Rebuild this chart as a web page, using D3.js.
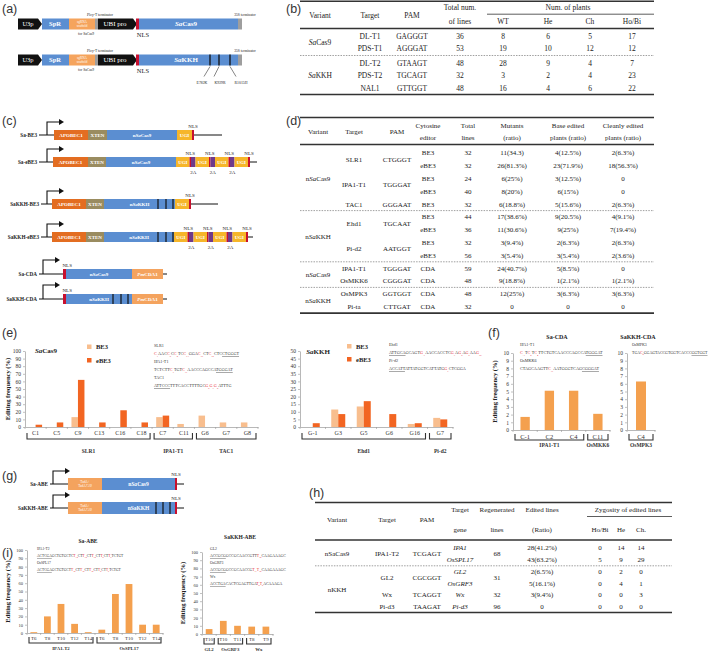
<!DOCTYPE html>
<html><head><meta charset="utf-8">
<script src="https://cdn.jsdelivr.net/npm/d3@7/dist/d3.min.js"></script>
<style>
html,body{margin:0;padding:0;background:#fff;}
svg{display:block;}
</style></head><body>
<svg id="fig" width="709" height="652"></svg>
<script>
// ======================= DATA =======================
// (b) SaCas9 / SaKKH knock-out table
const bVariants = ["*Sa*Cas9", "*Sa*KKH"];
const bVariantRows = [[0, 1], [2, 4]];
const bTargets = ["DL-T1", "PDS-T1", "DL-T2", "PDS-T2", "NAL1"];
const bPAM = ["GAGGGT", "AGGGAT", "GTAAGT", "TGCAGT", "GTTGGT"];
const bTotal = [36, 53, 48, 32, 48];
const bWT = [8, 19, 28, 3, 16];
const bHe = [6, 10, 9, 2, 4];
const bCh = [5, 12, 4, 4, 6];
const bHoBi = [17, 12, 7, 23, 22];

// (d) cytosine base editor table
const dVariantSpans = [["n*Sa*Cas9", 0, 4], ["n*Sa*KKH", 5, 8], ["n*Sa*Cas9", 9, 10], ["n*Sa*KKH", 11, 12]];
const dTargetSpans = [["SLR1", 0, 1], ["IPA1-T1", 2, 3], ["TAC1", 4, 4], ["Ehd1", 5, 6], ["Pi-d2", 7, 8],
                      ["IPA1-T1", 9, 9], ["OsMKK6", 10, 10], ["OsMPK3", 11, 11], ["Pi-ta", 12, 12]];
const dPAMSpans = [["CTGGGT", 0, 1], ["TGGGAT", 2, 3], ["GGGAAT", 4, 4], ["TGCAAT", 5, 6], ["AATGGT", 7, 8],
                   ["TGGGAT", 9, 9], ["CGGGAT", 10, 10], ["GGTGGT", 11, 11], ["CTTGAT", 12, 12]];
const dEditor = ["BE3", "eBE3", "BE3", "eBE3", "BE3", "BE3", "eBE3", "BE3", "eBE3", "CDA", "CDA", "CDA", "CDA"];
const dTotal = [32, 32, 24, 40, 32, 44, 36, 32, 56, 59, 48, 48, 32];
const dMutants = ["11(34.3)", "26(81.3%)", "6(25%)", "8(20%)", "6(18.8%)", "17(38.6%)", "11(30.6%)", "3(9.4%)", "3(5.4%)", "24(40.7%)", "9(18.8%)", "12(25%)", "0"];
const dBase = ["4(12.5%)", "23(71.9%)", "3(12.5%)", "6(15%)", "5(15.6%)", "9(20.5%)", "9(25%)", "2(6.3%)", "3(5.4%)", "5(8.5%)", "1(2.1%)", "3(6.3%)", "0"];
const dClean = ["2(6.3%)", "18(56.3%)", "0", "0", "2(6.3%)", "4(9.1%)", "7(19.4%)", "2(6.3%)", "2(3.6%)", "0", "1(2.1%)", "3(6.3%)", "0"];
const dDashedAfter = [4, 8, 10];

// (e) editing frequencies
const eCasCats = ["C1", "C5", "C9", "C13", "C16", "C18", "C7", "C11", "G6", "G7", "G8"];
const eCasBE3 = [0, 0, 13, 0, 0, 0, 13, 4, 15, 6, 6];
const eCasEBE3 = [3, 6, 62, 6, 22, 6, 15, 0, 0, 0, 0];
const eCasGroups = [["SLR1", 0, 5], ["IPA1-T1", 6, 7], ["TAC1", 8, 10]];
const eKkhCats = ["G-1", "G3", "G5", "G6", "G16", "G7"];
const eKkhBE3 = [0, 11.5, 13.5, 0, 2, 6];
const eKkhEBE3 = [2.5, 8.5, 17, 8.5, 2.5, 5];
const eKkhGroups = [["Ehd1", 0, 4], ["Pi-d2", 5, 5]];
const eCasSeqs = [["SLR1", "{C1}AAC{C5}C{C9}TC{C13}GGA{C16}CT{C18}CTC[CTGGGT]"],
                  ["IPA1-T1", "TCTCTT{C7}TGT{C11}AACCCAGCCA[TGGGAT]"],
                  ["TAC1", "[ATTCCC]TTTCACCTTTTGC{G6}{G7}{G8}ATTTG"]];
const eKkhSeqs = [["Ehd1", "[ATTGCA]GCAGT{G-1}AACCACCTC{G3}A{G5}A{G6}AA{G16}"],
                  ["Pi-d2", "[ACCATT]ATTATGGTCATTATG{G7}CTCGGA"]];

// (f) Sa-CDA / SaKKH-CDA
const fSaCats = ["C-1", "C2", "C4", "C11"];
const fSaVals = [1.7, 5.1, 5.1, 2.1];
const fSaGroups = [["IPA1-T1", 0, 2], ["OsMKK6", 3, 3]];
const fKkhCats = ["C4"];
const fKkhVals = [6.3];
const fKkhGroups = [["OsMPK3", 0, 0]];
const fSaSeqs = [["IPA1-T1", "{C-1}T{C2}T{C4}TTCTGTCAACCCAGCCA[TGGGAT]"],
                 ["OsMKK6", "CTAGCAAGTT{C11}AATGGGTCAG[CGGGAT]"]];
const fKkhSeqs = [["OsMPK3", "TGA{C4}GGAGTACCGTGGTCACCC[GGTGGT]"]];

// (h) adenine base editor table
const hVariantSpans = [["nSaCas9", 0, 1], ["nKKH", 2, 5]];
const hTargetSpans = [["IPA1-T2", 0, 1], ["GL2", 2, 3], ["Wx", 4, 4], ["Pi-d3", 5, 5]];
const hPAMSpans = [["TCGAGT", 0, 1], ["CGCGGT", 2, 3], ["TCAGGT", 4, 4], ["TAAGAT", 5, 5]];
const hGenes = ["IPA1", "OsSPL17", "GL2", "OsGRF3", "Wx", "Pi-d3"];
const hRegenSpans = [["68", 0, 1], ["31", 2, 3], ["32", 4, 4], ["96", 5, 5]];
const hEdited = ["28(41.2%)", "43(63.2%)", "2(6.5%)", "5(16.1%)", "3(9.4%)", "0"];
const hHoBi = [0, 5, 0, 0, 0, 0];
const hHe = [14, 9, 2, 4, 0, 0];
const hCh = [14, 29, 0, 1, 3, 0];

// (i) Sa-ABE / SaKKH-ABE
const iSaCats = ["T6", "T8", "T10", "T12", "T14", "T6", "T8", "T10", "T12", "T14"];
const iSaVals = [1, 20, 35, 11, 1, 4, 47, 59, 10, 10];
const iSaGroups = [["IPA1-T2", 0, 4], ["OsSPL17", 5, 9]];
const iKkhCats = ["T10", "T10", "T11", "T8", "T9"];
const iKkhVals = [6, 16, 10, 9, 9];
const iKkhGroups = [["GL2", 0, 0], ["OsGRF3", 1, 2], ["Wx", 3, 4]];
const iSaSeqs = [["IPA1-T2", "[ACTCGA]GCTGTGCTC{T14}CT{T12}CT{T10}CT{T8}CT{T6}TCTGT"],
                 ["OsSPL17", "[ACTCGA]GCTGTGCT{T14}CT{T12}CT{T10}CT{T8}CT{T6}TCTGT"]];
const iKkhSeqs = [["GL2", "[ACCGCG]GCCGCAACCGTT{T10}CAAGAAAGC"],
                  ["OsGRF3", "[ACCGCG]GCCGCAACCG{T11}{T10}CAAGAAAGC"],
                  ["Wx", "[ACCTGA]CACTCGAGTTGA{T9}{T8}ACAAAGA"]];

// ======================= DRAWING =======================
const SERIF = "'Liberation Serif','Times New Roman',serif";
const SANS = "'Liberation Sans',Arial,sans-serif";
const svg = d3.select("#fig");
const C = {
  blue: "#5b8ed1", orange: "#e36d21", xten: "#9a8c60", ugi: "#f6b62a", red: "#c8102e",
  purple: "#6f3a8a", pm: "#f4a35e", scaf: "#f5a45d", gray: "#9e9e9e",
  be3: "#f8be8e", ebe3: "#f26522", bar: "#f4a04e", txt: "#222"
};

function rich(g, x, y, s, o = {}) {
  const size = o.size || 7;
  const t = g.append("text").attr("x", x).attr("y", y + size * 0.35)
    .attr("font-size", size).attr("font-family", o.family || SERIF)
    .attr("text-anchor", o.anchor || "middle").attr("fill", o.fill || C.txt);
  if (o.bold) t.attr("font-weight", "bold");
  if (o.italic) t.attr("font-style", "italic");
  String(s).split("*").forEach((part, i) => {
    if (!part) return;
    const sp = t.append("tspan").text(part);
    if (i % 2 === 1) sp.attr("font-style", "italic");
  });
  return t;
}
function hline(g, x0, x1, y, w, dash, col) {
  const l = g.append("line").attr("x1", x0).attr("x2", x1).attr("y1", y).attr("y2", y)
    .attr("stroke", col || "#333").attr("stroke-width", w);
  if (dash) l.attr("stroke-dasharray", dash);
  return l;
}
function panelLabel(x, y, s) {
  svg.append("text").attr("x", x).attr("y", y).text(s).attr("font-family", SANS)
    .attr("font-size", 12.5).attr("fill", "#333");
}
function seq(g, x, y, s, size) {
  const t = g.append("text").attr("x", x).attr("y", y + size * 0.35).attr("font-size", size)
    .attr("font-family", SERIF).attr("fill", "#333");
  const re = /\{([A-Z])(-?\d+)\}|\[([A-Z]+)\]|([A-Z]+)/g;
  let m, pend = 0;
  const add = (txt) => { const sp = t.append("tspan").text(txt); if (pend) { sp.attr("dy", pend); pend = 0; } return sp; };
  while ((m = re.exec(s))) {
    if (m[1]) {
      add(m[1]).attr("fill", "#e8262d");
      const sub = add(m[2]).attr("fill", "#e8262d").attr("font-size", size * 0.62);
      sub.attr("dy", (+sub.attr("dy") || 0) + size * 0.25);
      pend = -size * 0.25;
    } else if (m[3]) {
      add(m[3]).attr("text-decoration", "underline");
    } else add(m[4]);
  }
}
function seqBlock(g, x, y0, gap, items, size) {
  items.forEach(([name, s], i) => {
    g.append("text").attr("x", x).attr("y", y0 + i * gap * 2 + size * 0.35).text(name)
      .attr("font-size", size).attr("font-family", SERIF).attr("fill", "#333");
    seq(g, x, y0 + i * gap * 2 + gap, s, size);
  });
}

// ---------- bar chart ----------
function barChart(cfg) {
  const g = svg.append("g");
  const n = cfg.cats.length;
  const x = d3.scaleBand().domain(d3.range(n)).range([cfg.x0, cfg.x1]).padding(0);
  const y = d3.scaleLinear().domain([0, cfg.max]).range([cfg.yb, cfg.yt]);
  const ya = g.append("g").attr("transform", `translate(${cfg.x0},0)`)
    .call(d3.axisLeft(y).tickValues(d3.range(0, cfg.max + 1e-9, cfg.step)).tickSize(2).tickSizeOuter(0).tickPadding(2));
  ya.select(".domain").attr("stroke", "#999").attr("stroke-width", 0.7);
  ya.selectAll(".tick line").attr("stroke", "#999").attr("stroke-width", 0.6);
  ya.selectAll(".tick text").attr("font-size", cfg.tickSize || 5.5).attr("font-family", SERIF).attr("fill", "#333");
  const xa = g.append("g").attr("transform", `translate(0,${cfg.yb})`)
    .call(d3.axisBottom(x).tickSize(0).tickSizeOuter(0).tickPadding(cfg.catPad || 3).tickFormat(i => cfg.cats[i]));
  xa.select(".domain").attr("stroke", "#999").attr("stroke-width", 0.7);
  xa.selectAll(".tick text").attr("font-size", cfg.catSize || 6).attr("font-family", SERIF).attr("fill", "#333");
  g.selectAll(null).data(d3.range(n + 1)).join("line")
    .attr("x1", i => cfg.x0 + i * x.step()).attr("x2", i => cfg.x0 + i * x.step())
    .attr("y1", cfg.yb).attr("y2", cfg.yb + 2).attr("stroke", "#999").attr("stroke-width", 0.6);
  const inner = d3.scaleBand().domain(d3.range(cfg.series.length)).range([0, x.bandwidth()])
    .paddingInner(0).paddingOuter(cfg.pad);
  cfg.series.forEach((s, si) => {
    g.selectAll(null).data(s.values).join("rect")
      .attr("x", (d, i) => x(i) + inner(si)).attr("width", inner.bandwidth())
      .attr("y", d => y(d)).attr("height", d => y(0) - y(d)).attr("fill", s.color);
  });
  cfg.groups.forEach(([name, a, b]) => {
    const bx0 = x(a) + 2, bx1 = x(b) + x.bandwidth() - 2, by = cfg.yb + cfg.brY;
    g.append("path").attr("d", `M${bx0},${by - 6}V${by}H${bx1}V${by - 6}`)
      .attr("fill", "none").attr("stroke", "#333").attr("stroke-width", 1.1);
    g.append("text").attr("x", (bx0 + bx1) / 2).attr("y", by + cfg.lblY).text(name)
      .attr("text-anchor", "middle").attr("font-size", cfg.grpSize || 5.5).attr("font-family", SERIF)
      .attr("font-weight", "bold").attr("fill", "#333");
  });
  if (cfg.ylabel) {
    g.append("text").attr("transform", `translate(${cfg.ylx},${(cfg.yb + cfg.yt) / 2}) rotate(-90)`)
      .attr("text-anchor", "middle").attr("font-size", cfg.ylSize || 6.5).attr("font-weight", "bold")
      .attr("font-family", SERIF).attr("fill", "#222").text(cfg.ylabel);
  }
  return g;
}

// ---------- construct schematic ----------
function construct(o) {
  const g = svg.append("g");
  const h = o.h;
  rich(g, o.labelX, o.y, o.label, { size: o.labelSize || 5.2, anchor: "end", bold: true });
  hline(g, o.labelX + 2, o.start, o.y, 1, null, "#111");
  g.append("path").attr("d", `M${o.arrowX},${o.y}V${o.y - o.arrowH}H${o.arrowX + 13}`)
    .attr("fill", "none").attr("stroke", "#111").attr("stroke-width", 1.1);
  g.append("path").attr("d", `M${o.arrowX + 12},${o.y - o.arrowH - 3}L${o.arrowX + 17},${o.y - o.arrowH}L${o.arrowX + 12},${o.y - o.arrowH + 3}Z`).attr("fill", "#111");
  let cx = o.start; const nls = [], twoA = [];
  o.segs.forEach(([name, w, col, ts]) => {
    g.append("rect").attr("x", cx).attr("y", o.y - h / 2).attr("width", w).attr("height", h).attr("fill", col);
    if (name === "NLS") nls.push(cx + w / 2);
    else if (name === "2A") twoA.push(cx + w / 2);
    else if (name) {
      if (name.includes("|")) {
        name.split("|").forEach((p, k) => rich(g, cx + w / 2, o.y - 2 + k * 4, p, { size: ts || 3.2, fill: "#fff" }));
      } else rich(g, cx + w / 2, o.y, name, { size: ts || 5.5, fill: "#fff", bold: true });
    }
    cx += w;
  });
  hline(g, cx, o.end, o.y, 1, null, "#111");
  (o.marks || []).forEach(mx => g.append("line").attr("x1", mx).attr("x2", mx).attr("y1", o.y - h / 2).attr("y2", o.y + h / 2).attr("stroke", "#111").attr("stroke-width", 1.2));
  nls.forEach(nx => rich(g, nx + (o.nlsDx || 0), o.y - h / 2 - 4, "NLS", { size: 5, anchor: o.nlsAnchor || "middle" }));
  twoA.forEach(ax => rich(g, ax, o.y + h / 2 + 5, "2A", { size: 5 }));
  return g;
}

// ================= (a) =================
panelLabel(2, 13, "(a)");
function vectorRow(y, isKKH) {
  const g = svg.append("g"), h = 11;
  const arrow = (x0, x1) => g.append("path").attr("d", `M${x0},${y - h / 2}H${x1 - 4}L${x1},${y}L${x1 - 4},${y + h / 2}H${x0}Z`).attr("fill", "#111");
  arrow(18, 42); rich(g, 28, y, "U3p", { size: 6.5, fill: "#fff" });
  g.append("rect").attr("x", 42).attr("y", y - h / 2).attr("width", 27).attr("height", h).attr("fill", C.blue);
  rich(g, 55, y, "SpR", { size: 6.5, fill: "#fff", bold: true });
  g.append("rect").attr("x", 69).attr("y", y - h / 2).attr("width", 26).attr("height", h).attr("fill", C.scaf);
  rich(g, 82, y - 2, "sgRNA", { size: 3.3, fill: "#fff" }); rich(g, 82, y + 2, "scaffold", { size: 3.3, fill: "#fff" });
  g.append("rect").attr("x", 95).attr("y", y - h / 2).attr("width", 3).attr("height", h).attr("fill", C.gray);
  arrow(98, 137); rich(g, 115, y, "UBI pro", { size: 7, fill: "#fff" });
  g.append("rect").attr("x", 136).attr("y", y - h / 2).attr("width", 3).attr("height", h).attr("fill", C.red);
  g.append("rect").attr("x", 139).attr("y", y - h / 2).attr("width", 99).attr("height", h).attr("fill", C.blue);
  rich(g, 186, y, isKKH ? "*Sa*KKH" : "*Sa*Cas9", { size: 7, fill: "#fff", bold: true });
  g.append("rect").attr("x", 238).attr("y", y - h / 2).attr("width", 4).attr("height", h).attr("fill", C.gray);
  rich(g, 100, y - 9, "Ploy-T terminator", { size: 3.6 });
  rich(g, 245, y - 9, "35S terminator", { size: 3.6 });
  rich(g, 86, y + 10, "for SaCas9", { size: 3.6 });
  rich(g, 143, y + 11, "NLS", { size: 6.5 });
  if (isKKH) {
    [[210, 204, "E782K", 202], [219, 214, "K929R", 220], [230, 236, "R1015H", 241]].forEach(([mx, ex, lab, lx]) => {
      g.append("line").attr("x1", mx).attr("x2", mx).attr("y1", y - h / 2).attr("y2", y + h / 2).attr("stroke", "#111").attr("stroke-width", 1.3);
      g.append("line").attr("x1", mx).attr("x2", ex).attr("y1", y + h / 2 + 1).attr("y2", y + h / 2 + 11).attr("stroke", "#333").attr("stroke-width", 0.6);
      rich(g, lx, y + 23, lab, { size: 3.8 });
    });
  }
}
vectorRow(24, false);
vectorRow(60, true);

// ================= (b) =================
panelLabel(286, 13, "(b)");
{
  const g = svg.append("g"), fs = 7.5;
  const X = { v: 320, t: 370, p: 412, tot: 460, wt: 503, he: 548, ch: 590, hb: 632 };
  hline(g, 300, 654, 1.2, 1.6);
  rich(g, X.v, 15, "Variant", { size: fs }); rich(g, X.t, 15, "Target", { size: fs }); rich(g, X.p, 15, "PAM", { size: fs });
  rich(g, X.tot, 7.5, "Total num.", { size: fs }); rich(g, X.tot, 21, "of lines", { size: fs });
  rich(g, 568, 7.5, "Num. of plants", { size: fs });
  hline(g, 487, 654, 14.2, 0.8);
  [["WT", X.wt], ["He", X.he], ["Ch", X.ch], ["Ho/Bi", X.hb]].forEach(([s, x]) => rich(g, x, 21, s, { size: fs }));
  hline(g, 300, 654, 28.5, 1.3);
  const ry = [36, 48, 63, 75, 88];
  bTargets.forEach((t, i) => {
    rich(g, X.t, ry[i], t, { size: fs }); rich(g, X.p, ry[i], bPAM[i], { size: fs });
    rich(g, X.tot, ry[i], bTotal[i], { size: fs }); rich(g, X.wt, ry[i], bWT[i], { size: fs });
    rich(g, X.he, ry[i], bHe[i], { size: fs }); rich(g, X.ch, ry[i], bCh[i], { size: fs });
    rich(g, X.hb, ry[i], bHoBi[i], { size: fs });
  });
  bVariants.forEach((v, k) => rich(g, X.v, (ry[bVariantRows[k][0]] + ry[bVariantRows[k][1]]) / 2, v, { size: fs }));
  hline(g, 300, 654, 55.5, 0.7, "1.5,1.2", "#777");
  hline(g, 300, 654, 94.5, 1.6);
}

// ================= (c) =================
panelLabel(2, 125, "(c)");
function eUnits(n) { const a = []; for (let i = 0; i < n; i++) a.push(["UGI", 13.5, C.ugi, 4.8], ["NLS", 1.5, C.red], ["2A", 4.5, C.purple]); a.push(["UGI", 13.5, C.ugi, 4.8], ["NLS", 2, C.red]); return a; }
construct({ y: 135, label: "Sa-BE3", labelX: 37, start: 54, end: 222, arrowX: 47, arrowH: 13, h: 10,
  segs: [["APOBEC1", 34, C.orange, 5], ["XTEN", 19, C.xten, 5], ["n*Sa*Cas9", 70, C.blue, 5], ["UGI", 15, C.ugi, 5], ["NLS", 2, C.red]] });
construct({ y: 162, label: "Sa-eBE3", labelX: 37, start: 53, end: 257, arrowX: 47, arrowH: 13, h: 10,
  segs: [["APOBEC1", 35, C.orange, 5], ["XTEN", 18, C.xten, 5], ["n*Sa*Cas9", 70, C.blue, 5]].concat(eUnits(3)) });
construct({ y: 204, label: "SaKKH-BE3", labelX: 39, start: 52, end: 218, arrowX: 47, arrowH: 13, h: 10, marks: [158, 166, 173],
  segs: [["APOBEC1", 34, C.orange, 5], ["XTEN", 18, C.xten, 5], ["n*Sa*KKH", 71, C.blue, 5], ["UGI", 14, C.ugi, 5], ["NLS", 2, C.red]] });
construct({ y: 237, label: "SaKKH-eBE3", labelX: 39, start: 52, end: 253, arrowX: 47, arrowH: 13, h: 10, marks: [158, 166, 173],
  segs: [["APOBEC1", 34, C.orange, 5], ["XTEN", 18, C.xten, 5], ["n*Sa*KKH", 70, C.blue, 5]].concat(eUnits(3)) });
construct({ y: 274, label: "Sa-CDA", labelX: 37, start: 63, end: 167, arrowX: 43, arrowH: 14, h: 10, nlsDx: -2, nlsAnchor: "start",
  segs: [["NLS", 3, C.red], ["n*Sa*Cas9", 66, C.blue, 5], ["*Pm*CDA1", 31, C.pm, 5]] });
construct({ y: 299, label: "SaKKH-CDA", labelX: 37, start: 63, end: 167, arrowX: 43, arrowH: 14, h: 10, nlsDx: -2, nlsAnchor: "start", marks: [113, 121, 128],
  segs: [["NLS", 3, C.red], ["n*Sa*KKH", 66, C.blue, 5], ["*Pm*CDA1", 31, C.pm, 5]] });

// ================= (d) =================
panelLabel(286, 125, "(d)");
{
  const g = svg.append("g"), fs = 7;
  const X = { v: 318, t: 354, p: 397, ed: 428, tot: 468, mu: 512, ba: 568, cl: 623 };
  hline(g, 300, 654, 117.5, 1.6);
  rich(g, X.v, 132, "Variant", { size: fs }); rich(g, X.t, 132, "Target", { size: fs }); rich(g, X.p, 132, "PAM", { size: fs });
  [[X.ed, "Cytosine", "editor"], [X.tot, "Total", "lines"], [X.mu, "Mutants", "(ratio)"], [X.ba, "Base edited", "plants (ratio)"], [X.cl, "Cleanly edited", "plants (ratio)"]]
    .forEach(([x, a, b]) => { rich(g, x, 126, a, { size: fs }); rich(g, x, 137.5, b, { size: fs }); });
  hline(g, 300, 654, 144.5, 1.3);
  const ry = d3.range(dEditor.length).map(i => 153 + i * 12.8);
  const mid = (a, b) => (ry[a] + ry[b]) / 2;
  dEditor.forEach((e, i) => {
    rich(g, X.ed, ry[i], e, { size: fs }); rich(g, X.tot, ry[i], dTotal[i], { size: fs });
    rich(g, X.mu, ry[i], dMutants[i], { size: fs }); rich(g, X.ba, ry[i], dBase[i], { size: fs });
    rich(g, X.cl, ry[i], dClean[i], { size: fs });
  });
  dTargetSpans.forEach(([s, a, b]) => rich(g, X.t, mid(a, b), s, { size: fs }));
  dPAMSpans.forEach(([s, a, b]) => rich(g, X.p, mid(a, b), s, { size: fs }));
  dVariantSpans.forEach(([s, a, b]) => rich(g, X.v, mid(a, b), s, { size: fs }));
  dDashedAfter.forEach(i => hline(g, 300, 654, mid(i, i + 1), 0.7, "1.5,1.2", "#777"));
  hline(g, 300, 654, ry[ry.length - 1] + 6.5, 1.6);
}

// ================= (e) =================
panelLabel(2, 337, "(e)");
barChart({ x0: 25, x1: 258, yb: 427, yt: 351, max: 100, step: 10, cats: eCasCats, pad: 0.63, catPad: 4, catSize: 6,
  series: [{ values: eCasBE3, color: C.be3 }, { values: eCasEBE3, color: C.ebe3 }],
  groups: eCasGroups, brY: 12, lblY: 14, ylx: 10, ylabel: "Editing frequency (%)" });
rich(svg, 46, 351, "*Sa*Cas9", { size: 7, bold: true });
svg.append("rect").attr("x", 87).attr("y", 344.5).attr("width", 4.5).attr("height", 4.5).attr("fill", C.be3);
rich(svg, 96, 347, "BE3", { size: 6.5, bold: true, anchor: "start" });
svg.append("rect").attr("x", 87).attr("y", 358).attr("width", 4.5).attr("height", 4.5).attr("fill", C.ebe3);
rich(svg, 96, 360.5, "eBE3", { size: 6.5, bold: true, anchor: "start" });
seqBlock(svg, 154, 346, 8, eCasSeqs, 4.2);

barChart({ x0: 300, x1: 453, yb: 427, yt: 351, max: 50, step: 5, cats: eKkhCats, pad: 0.82, catPad: 4, catSize: 6,
  series: [{ values: eKkhBE3, color: C.be3 }, { values: eKkhEBE3, color: C.ebe3 }],
  groups: eKkhGroups, brY: 12, lblY: 14, ylx: 282, ylabel: "" });
rich(svg, 318, 352, "*Sa*KKH", { size: 7, bold: true });
svg.append("rect").attr("x", 347).attr("y", 344).attr("width", 4.5).attr("height", 4.5).attr("fill", C.be3);
rich(svg, 356, 346.5, "BE3", { size: 6.5, bold: true, anchor: "start" });
svg.append("rect").attr("x", 347).attr("y", 357).attr("width", 4.5).attr("height", 4.5).attr("fill", C.ebe3);
rich(svg, 356, 359.5, "eBE3", { size: 6.5, bold: true, anchor: "start" });
seqBlock(svg, 389, 345, 8, eKkhSeqs, 4.2);

// ================= (f) =================
panelLabel(488, 337, "(f)");
barChart({ x0: 513, x1: 610, yb: 430, yt: 353, max: 10, step: 1, cats: fSaCats, pad: 0.8, catPad: 4, catSize: 6.5,
  series: [{ values: fSaVals, color: C.bar }], groups: fSaGroups, brY: 10, lblY: 7, ylx: 497, ylabel: "Editing frequency (%)" });
rich(svg, 557, 337, "Sa-CDA", { size: 6, bold: true });
seqBlock(svg, 520, 345, 8, fSaSeqs, 4.2);
barChart({ x0: 627, x1: 655, yb: 430, yt: 353, max: 10, step: 1, cats: fKkhCats, pad: 0.9, catPad: 4, catSize: 6.5,
  series: [{ values: fKkhVals, color: C.bar }], groups: fKkhGroups, brY: 10, lblY: 7, ylx: 612, ylabel: "" });
rich(svg, 638, 337, "SaKKH-CDA", { size: 6, bold: true });
seqBlock(svg, 632, 345, 8, fKkhSeqs, 3.9);

// ================= (g) =================
panelLabel(2, 480, "(g)");
construct({ y: 484, label: "Sa-ABE", labelX: 48, start: 68, end: 184, arrowX: 53, arrowH: 13, h: 12, labelSize: 5.2,
  segs: [["TadA+|TadA*7.10", 34, C.pm, 3.4], ["n*Sa*Cas9", 73, C.blue, 5.5], ["NLS", 2, C.red]] });
construct({ y: 508, label: "SaKKH-ABE", labelX: 48, start: 68, end: 184, arrowX: 53, arrowH: 13, h: 12, labelSize: 5.2, marks: [156, 163, 170],
  segs: [["TadA+|TadA*7.10", 34, C.pm, 3.4], ["nSaKKH", 73, C.blue, 5.5], ["NLS", 2, C.red]] });

// ================= (h) =================
panelLabel(309, 497, "(h)");
{
  const g = svg.append("g"), fs = 7;
  const X = { v: 337, t: 387, p: 427, gene: 460, reg: 497, ed: 542, hb: 600, he: 621, ch: 641 };
  hline(g, 315, 672, 502.5, 1.6);
  rich(g, X.v, 520, "Variant", { size: fs }); rich(g, X.t, 520, "Target", { size: fs }); rich(g, X.p, 520, "PAM", { size: fs });
  [[X.gene, "Target", "gene"], [X.reg, "Regenerated", "lines"], [X.ed, "Edited lines", "(Ratio)"]]
    .forEach(([x, a, b]) => { rich(g, x, 509.5, a, { size: fs }); rich(g, x, 530, b, { size: fs }); });
  rich(g, 628, 509.5, "Zygosity of edited lines", { size: fs });
  hline(g, 587, 672, 516.5, 0.8);
  [["Ho/Bi", X.hb], ["He", X.he], ["Ch.", X.ch]].forEach(([s, x]) => rich(g, x, 530, s, { size: fs }));
  hline(g, 315, 672, 540, 1.3);
  const ry = [548, 559.5, 572, 583.5, 595, 606.5];
  const mid = (a, b) => (ry[a] + ry[b]) / 2;
  hGenes.forEach((s, i) => {
    rich(g, X.gene, ry[i], s, { size: fs, italic: true });
    rich(g, X.ed, ry[i], hEdited[i], { size: fs });
    rich(g, X.hb, ry[i], hHoBi[i], { size: fs }); rich(g, X.he, ry[i], hHe[i], { size: fs }); rich(g, X.ch, ry[i], hCh[i], { size: fs });
  });
  hVariantSpans.forEach(([s, a, b]) => rich(g, X.v, mid(a, b), s, { size: fs }));
  hTargetSpans.forEach(([s, a, b]) => rich(g, X.t, mid(a, b), s, { size: fs }));
  hPAMSpans.forEach(([s, a, b]) => rich(g, X.p, mid(a, b), s, { size: fs }));
  hRegenSpans.forEach(([s, a, b]) => rich(g, X.reg, mid(a, b), s, { size: fs }));
  hline(g, 315, 672, 565.8, 0.7, "1.5,1.2", "#777");
  hline(g, 315, 672, 612.5, 1.6);
}

// ================= (i) =================
panelLabel(2, 557, "(i)");
barChart({ x0: 27, x1: 163, yb: 633, yt: 550, max: 100, step: 10, cats: iSaCats, pad: 0.5, catPad: 3, catSize: 5,
  tickSize: 4.5, series: [{ values: iSaVals, color: C.bar }], groups: iSaGroups, brY: 10, lblY: 7, grpSize: 4.8,
  ylx: 10, ylSize: 6.5, ylabel: "Editing frequency (%)" });
rich(svg, 88, 541, "Sa-ABE", { size: 5.5, bold: true });
seqBlock(svg, 37, 549, 7, iSaSeqs, 3.6);
barChart({ x0: 202, x1: 273, yb: 634, yt: 552, max: 100, step: 10, cats: iKkhCats, pad: 0.56, catPad: 3, catSize: 5,
  tickSize: 4.5, series: [{ values: iKkhVals, color: C.bar }], groups: iKkhGroups, brY: 10, lblY: 7, grpSize: 4.8,
  ylx: 185, ylSize: 6.5, ylabel: "Editing frequency (%)" });
rich(svg, 240, 537, "SaKKH-ABE", { size: 5.5, bold: true });
seqBlock(svg, 210, 549, 7, iKkhSeqs, 3.8);
</script>
</body></html>
